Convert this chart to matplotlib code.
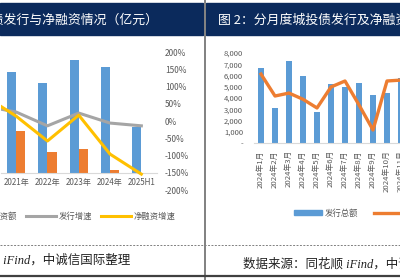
import matplotlib
matplotlib.use("Agg")
import matplotlib.pyplot as plt
from matplotlib.patches import Rectangle, Patch
from matplotlib.lines import Line2D
from matplotlib.ticker import FuncFormatter

plt.rcParams["font.family"] = ["Noto Sans CJK SC", "DejaVu Sans"]

# left panel: yearly issuance / net financing (亿元) and growth rates
years = ["2020年", "2021年", "2022年", "2023年", "2024年", "2025H1"]
issue = [45000, 58600, 52200, 65500, 61500, 26700]
net_fin = [22000, 24400, 12200, 13900, 1700, -300]
issue_g = [0.43, 0.26, -0.14, 0.23, -0.06, -0.14]
net_g = [0.72, 0.14, -0.58, 0.17, -0.96, -1.54]

# right panel: monthly issuance and repayment (亿元)
months = ["2024年1月", "2024年2月", "2024年3月", "2024年4月", "2024年5月", "2024年6月",
          "2024年7月", "2024年8月", "2024年9月", "2024年10月", "2024年11月", "2024年12月"]
m_issue = [6670, 3130, 7290, 5960, 2770, 5250, 4990, 5340, 4280, 4460, 5780, 5000]
m_repay = [6130, 4190, 4450, 3900, 3130, 4990, 5520, 3400, 1180, 5520, 5600, 6000]

BLUE, ORANGE, GRAY, YELLOW = "#5B9BD5", "#ED7D31", "#A5A5A5", "#FFC000"
NAVY, TXT = "#0B2A5C", "#595959"
W, H = 400, 280


def box(x0, y0, x1, y1):
    return [x0 / W, 1 - y1 / H, (x1 - x0) / W, (y1 - y0) / H]


fig = plt.figure(figsize=(4, 2.8), dpi=100)

# page decoration
fig.patches.append(Rectangle((0, 1 - 35 / H), 203 / W, 32 / H, transform=fig.transFigure,
                             color=NAVY, zorder=0))
fig.patches.append(Rectangle((206 / W, 1 - 35 / H), 194 / W, 32 / H, transform=fig.transFigure,
                             color=NAVY, zorder=0))
fig.add_artist(Line2D([204.5 / W, 204.5 / W], [0, 1], color="#808080", lw=1.4))
fig.add_artist(Line2D([0, 1], [1 - 245 / H, 1 - 245 / H], color="#808080", lw=0.7, ls=(0, (2, 1.5))))
fig.add_artist(Line2D([0, 1], [1 - 276 / H, 1 - 276 / H], color="#404040", lw=1.6))

fig.text(158 / W, 1 - 20 / H, "图 1：城投债发行与净融资情况（亿元）", color="white",
         fontsize=9.3, ha="right", va="center")
fig.text(218 / W, 1 - 20 / H, "图 2：分月度城投债发行及净融资情况（亿元）", color="white",
         fontsize=9.3, ha="left", va="center")
fig.text(130 / W, 1 - 260 / H, "数据来源：同花顺 iFind，中诚信国际整理", color="#222222",
         fontsize=9, ha="right", va="center", style="italic",
         family=["Liberation Serif", "Noto Sans CJK SC"])
fig.text(243 / W, 1 - 264 / H, "数据来源：同花顺 iFind，中诚信国际整理", color="#222222",
         fontsize=9, ha="left", va="center", style="italic",
         family=["Liberation Serif", "Noto Sans CJK SC"])

# ---- left chart
ax1 = fig.add_axes(box(0.5, 52, 157, 190))
x = list(range(len(years)))
ax1.bar([i - 0.145 for i in x], issue, 0.29, color=BLUE, label="发行额")
ax1.bar([i + 0.145 for i in x], net_fin, 0.29, color=ORANGE, label="净融资额")
ax1.set_yticks([])
for s in ["top", "right", "left"]:
    ax1.spines[s].set_visible(False)
ax1.spines["bottom"].set_position(("data", 0))
ax1.spines["bottom"].set_color("#D9D9D9")
ax1.tick_params(axis="x", length=0, pad=4, labelsize=5.8, colors=TXT)
ax1.patch.set_alpha(0)

ax1b = ax1.twinx()
ax1b.plot(x, issue_g, color=GRAY, lw=2.2, label="发行增速")
ax1b.plot(x, net_g, color=YELLOW, lw=2.2, label="净融资增速")
ax1b.set_ylim(-2, 2)
ax1b.set_yticks([-2, -1.5, -1, -0.5, 0, 0.5, 1, 1.5, 2])
ax1b.yaxis.set_major_formatter(FuncFormatter(lambda v, _: f"{v * 100:.0f}%"))
ax1b.tick_params(axis="y", length=0, pad=5.8, labelsize=6, colors=TXT)
for s in ax1b.spines.values():
    s.set_visible(False)
ax1.set_xticks(x, years)
ax1.set_xlim(0.5, 5.5)
ax1.set_ylim(-10000, 70000)

h1 = [Patch(color=BLUE), Patch(color=ORANGE),
      Line2D([], [], color=GRAY, lw=2.2), Line2D([], [], color=YELLOW, lw=2.2)]
fig.legend(h1, ["发行额", "净融资额", "发行增速", "净融资增速"], ncol=4,
           loc="center right", bbox_to_anchor=(175 / W, 1 - 216 / H),
           frameon=False, fontsize=6, labelcolor=TXT, borderpad=0, borderaxespad=0,
           handlelength=3.6, handletextpad=0.25, columnspacing=1.08, handleheight=0.5)

# ---- right chart
ax2 = fig.add_axes(box(254, 53, 254 + 14 * len(months), 143.3))
xm = list(range(len(months)))
ax2.bar(xm, m_issue, 0.43, color=BLUE)
ax2.plot(xm, m_repay, color=ORANGE, lw=2.4)
ax2.set_xlim(-0.5, len(months) - 0.5)
ax2.set_ylim(0, 8000)
ax2.set_yticks(range(0, 8001, 1000))
ax2.yaxis.set_major_formatter(FuncFormatter(lambda v, _: "-" if v == 0 else f"{v:,.0f}"))
ax2.set_xticks(xm, months, rotation=90)
for s in ["top", "right", "left"]:
    ax2.spines[s].set_visible(False)
ax2.spines["bottom"].set_color("#D9D9D9")
ax2.tick_params(axis="y", length=0, pad=7.9, labelsize=5.5, colors=TXT)
ax2.tick_params(axis="x", length=0, pad=5, labelsize=5.6, colors=TXT)
ax2.patch.set_alpha(0)

h2 = [Patch(color=BLUE), Line2D([], [], color=ORANGE, lw=2.4)]
fig.legend(h2, ["发行总额", "偿还总额"], ncol=2, loc="center left",
           bbox_to_anchor=(294 / W, 1 - 213 / H), frameon=False, fontsize=6,
           labelcolor=TXT, borderpad=0, borderaxespad=0, handlelength=3.36,
           handletextpad=0.36, columnspacing=1.9, handleheight=0.5)

fig.savefig("out.png", dpi=100)
